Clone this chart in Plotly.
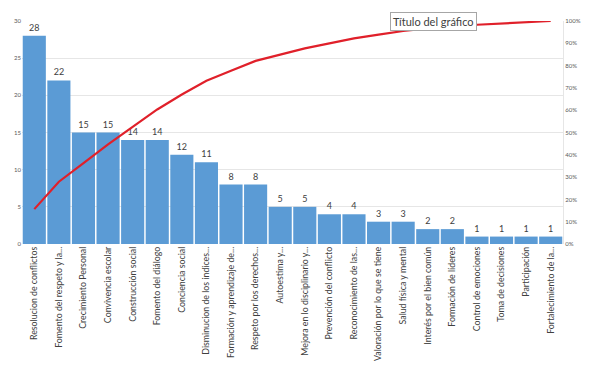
import plotly.graph_objects as go
import numpy as np

categories = [
    "Resolucion de conflictos", "Fomento del respeto y la...", "Crecimiento Personal",
    "Convivencia escolar", "Construcción social", "Fomento del diálogo",
    "Conciencia social", "Disminucion de los indices...", "Formación y aprendizaje de...",
    "Respeto por los derechos...", "Autoestima y...", "Mejora en lo disciplinario y...",
    "Prevención del conflicto", "Reconocimiento de las...", "Valoración por lo que se tiene",
    "Salud física y mental", "Interés por el bien común", "Formación de líderes",
    "Control de emociones", "Toma de decisiones", "Participación", "Fortalecimiento de la...",
]
counts = [28, 22, 15, 15, 14, 14, 12, 11, 8, 8, 5, 5, 4, 4, 3, 3, 2, 2, 1, 1, 1, 1]
cumulative_pct = list(np.cumsum(counts) / sum(counts))

left_ticks = [0, 5, 10, 15, 20, 25, 30]
right_ticks = [i / 10 for i in range(11)]

font_family = "Lato, Open Sans, sans-serif"

fig = go.Figure()
fig.add_trace(go.Bar(
    x=categories, y=counts, marker=dict(color="#5B9BD5", line=dict(width=0)),
    text=counts, textposition="outside", cliponaxis=False,
    textfont=dict(size=9, color="#404040", family=font_family),
))
fig.add_trace(go.Scatter(
    x=categories, y=cumulative_pct, yaxis="y2", mode="lines",
    line=dict(color="#E0202A", width=2.2),
))

fig.update_layout(
    width=589, height=378,
    margin=dict(l=22, r=26, t=21, b=134),
    paper_bgcolor="white", plot_bgcolor="white",
    showlegend=False, bargap=0.06,
    font=dict(family=font_family),
    xaxis=dict(
        tickangle=-90, tickfont=dict(size=8.8, color="#404040"),
        showgrid=False, showline=False, ticks="", automargin=False,
    ),
    yaxis=dict(
        range=[0, 30], tickvals=left_ticks, tickfont=dict(size=6, color="#595959"),
        showgrid=True, gridcolor="#E6E6E6", gridwidth=1, zeroline=False,
        showline=False, ticks="", automargin=False,
    ),
    yaxis2=dict(
        range=[0, 1], tickvals=right_ticks, tickformat=".0%", overlaying="y", side="right",
        tickfont=dict(size=6, color="#595959"), showgrid=False, zeroline=False,
        showline=True, linecolor="#E6E6E6", ticks="", automargin=False,
    ),
    annotations=[dict(
        text="Título del gráfico", xref="paper", yref="paper", x=0.76, y=1.0,
        xanchor="center", yanchor="middle", showarrow=False,
        font=dict(size=11, color="#404040", family=font_family),
        bgcolor="white", bordercolor="#A6A6A6", borderwidth=1, borderpad=2,
    )],
)

fig.write_html("out.html", config={"displayModeBar": False},
               post_script="document.body.style.margin='0';")
